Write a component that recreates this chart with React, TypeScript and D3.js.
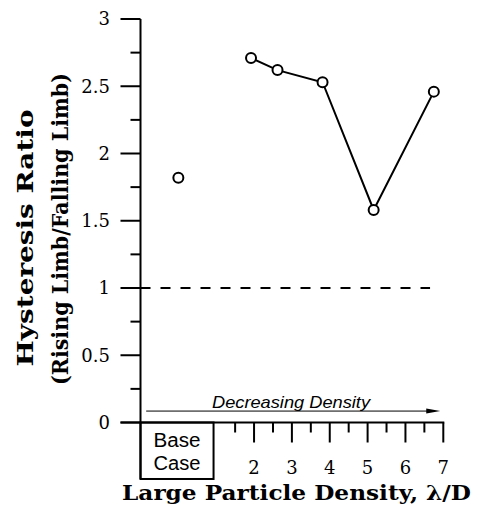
import React from "react";
import * as d3 from "d3";

// Data
const baseCaseX = [0];
const baseCaseRatio = [1.82];
const densities = [1.92, 2.62, 3.81, 5.16, 6.75];
const ratios = [2.71, 2.62, 2.53, 1.58, 2.46];
const yMajorTicks = [0, 0.5, 1, 1.5, 2, 2.5, 3];
const yMinorTicks = [0.25, 0.75, 1.25, 1.75, 2.25, 2.75];
const xMajorTicks = [2, 3, 4, 5, 6, 7];
const xMinorTicks = [1.5, 2.5, 3.5, 4.5, 5.5, 6.5];
const yTickLabels = ["0", "0.5", "1", "1.5", "2", "2.5", "3"];
const xTickLabels = ["2", "3", "4", "5", "6", "7"];
const refLineValue = [1];
const refLineExtent = [-1, 6.65];
const baseBoxExtent = [-1, 0.93];
const baseBoxBottom = -0.42;
const arrowExtent = [-0.85, 6.92];
const arrowLevel = 0.085;

const W = 482;
const H = 514;

export default function App() {
  const x = d3.scaleLinear().domain([-1, 7]).range([140.5, 443.3]);
  const y = d3.scaleLinear().domain([0, 3]).range([422.5, 19]);
  const serif = "'DejaVu Serif', serif";
  const serifBold = "'DejaVu Serif', serif";
  const sans = "'Liberation Sans', Arial, sans-serif";

  const line = d3
    .line<number>()
    .x((_, i) => x(densities[i]))
    .y((d) => y(d));

  const ax = x(-1);
  const ay = y(0);
  const arrowEndX = x(arrowExtent[1]);
  const arrowY = y(arrowLevel);

  return (
    <svg
      width={W}
      height={H}
      style={{ position: "absolute", left: 0, top: 0, background: "#fff" }}
    >
      <rect width={W} height={H} fill="#fff" />
      {/* Y ticks */}
      {yMajorTicks.map((t, i) => (
        <g key={"ym" + t}>
          <line x1={ax - 20} x2={ax} y1={y(t)} y2={y(t)} stroke="#000" strokeWidth={2} />
          <text
            x={110}
            y={y(t)}
            dy="0.36em"
            textAnchor="end"
            fontFamily={serif}
            fontSize={18}
            fill="#000"
          >
            {yTickLabels[i]}
          </text>
        </g>
      ))}
      {yMinorTicks.map((t) => (
        <line key={"yn" + t} x1={ax - 10} x2={ax} y1={y(t)} y2={y(t)} stroke="#000" strokeWidth={2} />
      ))}
      {/* X ticks */}
      {xMajorTicks.map((t, i) => (
        <g key={"xm" + t}>
          <line x1={x(t)} x2={x(t)} y1={ay} y2={ay + 20} stroke="#000" strokeWidth={2} />
          <text
            x={x(t)}
            y={474}
            textAnchor="middle"
            fontFamily={serif}
            fontSize={18}
            fill="#000"
          >
            {xTickLabels[i]}
          </text>
        </g>
      ))}
      {xMinorTicks.map((t) => (
        <line key={"xn" + t} x1={x(t)} x2={x(t)} y1={ay} y2={ay + 10} stroke="#000" strokeWidth={2} />
      ))}
      {/* Base case box */}
      <rect
        x={x(baseBoxExtent[0])}
        y={ay}
        width={x(baseBoxExtent[1]) - x(baseBoxExtent[0])}
        height={y(baseBoxBottom) - ay}
        fill="none"
        stroke="#000"
        strokeWidth={2}
      />
      <text x={177} y={446.5} textAnchor="middle" fontFamily={sans} fontSize={19.5} textLength={47} lengthAdjust="spacingAndGlyphs" fill="#000">
        Base
      </text>
      <text x={177} y={470} textAnchor="middle" fontFamily={sans} fontSize={19.5} textLength={47} lengthAdjust="spacingAndGlyphs" fill="#000">
        Case
      </text>
      {/* Axes lines */}
      <line x1={ax} x2={ax} y1={y(3)} y2={y(baseBoxBottom)} stroke="#000" strokeWidth={2} />
      <line x1={ax - 20} x2={x(7) + 1} y1={ay} y2={ay} stroke="#000" strokeWidth={2} />
      {/* Reference line */}
      <line
        x1={x(refLineExtent[0])}
        x2={x(refLineExtent[1])}
        y1={y(refLineValue[0])}
        y2={y(refLineValue[0])}
        stroke="#000"
        strokeWidth={2}
        strokeDasharray="10,10"
      />
      {/* Decreasing density arrow */}
      <line
        x1={x(arrowExtent[0])}
        x2={arrowEndX - 12}
        y1={arrowY}
        y2={arrowY}
        stroke="#000"
        strokeWidth={1}
      />
      <path
        d={`M${arrowEndX},${arrowY} L${arrowEndX - 14},${arrowY - 2.5} L${arrowEndX - 14},${arrowY + 2.5} Z`}
        fill="#000"
      />
      <text
        x={291}
        y={408}
        textAnchor="middle"
        fontFamily={sans}
        fontStyle="italic"
        fontSize={17}
        textLength={158}
        lengthAdjust="spacingAndGlyphs"
        fill="#000"
      >
        Decreasing Density
      </text>
      {/* Data line */}
      <path d={line(ratios) || ""} fill="none" stroke="#000" strokeWidth={2} />
      {ratios.map((r, i) => (
        <circle key={"p" + i} cx={x(densities[i])} cy={y(r)} r={5} fill="#fff" stroke="#000" strokeWidth={2} />
      ))}
      {baseCaseRatio.map((r, i) => (
        <circle key={"b" + i} cx={x(baseCaseX[i])} cy={y(r)} r={5} fill="#fff" stroke="#000" strokeWidth={2} />
      ))}
      {/* Axis titles */}
      <text
        x={296.5}
        y={500}
        textAnchor="middle"
        fontFamily={serifBold}
        fontWeight="bold"
        fontSize={21}
        textLength={349}
        lengthAdjust="spacingAndGlyphs"
        fill="#000"
      >
        Large Particle Density, λ/D
      </text>
      <text
        transform="translate(33,238) rotate(-90)"
        textAnchor="middle"
        fontFamily={serifBold}
        fontWeight="bold"
        fontSize={22}
        textLength={257}
        lengthAdjust="spacingAndGlyphs"
        fill="#000"
      >
        Hysteresis Ratio
      </text>
      <text
        transform="translate(68,229) rotate(-90)"
        textAnchor="middle"
        fontFamily={serifBold}
        fontWeight="bold"
        fontSize={22}
        textLength={312}
        lengthAdjust="spacingAndGlyphs"
        fill="#000"
      >
        (Rising Limb/Falling Limb)
      </text>
    </svg>
  );
}
